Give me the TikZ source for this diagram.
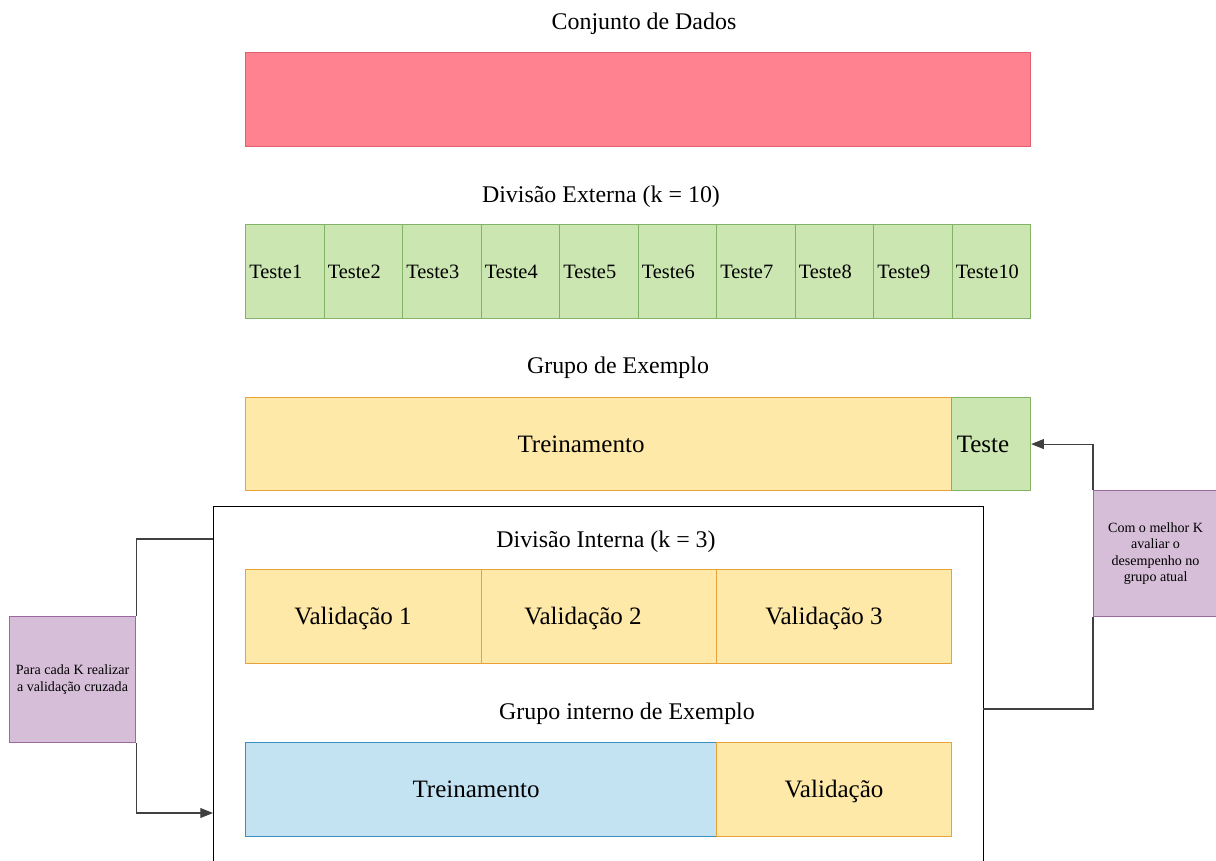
\documentclass[tikz,border=0pt]{standalone}
\usepackage{fontspec}
\setmainfont{Liberation Serif}
\usetikzlibrary{arrows.meta}

\definecolor{dadosfill}{HTML}{FF8290}
\definecolor{dadosline}{HTML}{E0606E}
\definecolor{verdefill}{HTML}{CCE6B2}
\definecolor{verdeline}{HTML}{82B366}
\definecolor{amarelofill}{HTML}{FFE9A8}
\definecolor{amareloline}{HTML}{E8A23C}
\definecolor{azulfill}{HTML}{C3E3F3}
\definecolor{azulline}{HTML}{3A8EC0}
\definecolor{roxofill}{HTML}{D6BDD8}
\definecolor{roxoline}{HTML}{9A6A9E}
\definecolor{linha}{HTML}{404040}

\def\px{0.025cm}

\tikzset{
	caixa/.style={draw, line width=0.8pt, anchor=north west, inner sep=0pt},
	tamanho/.style 2 args={minimum width=#1*\px, minimum height=#2*\px},
	dados/.style={caixa, fill=dadosfill, draw=dadosline},
	verde/.style={caixa, fill=verdefill, draw=verdeline},
	amarelo/.style={caixa, fill=amarelofill, draw=amareloline},
	azul/.style={caixa, fill=azulfill, draw=azulline},
	roxo/.style={caixa, fill=roxofill, draw=roxoline, align=center,
		font=\fontsize{10}{11.6}\selectfont},
	titulo/.style={font=\fontsize{17}{20}\selectfont},
	rotulo/.style={font=\fontsize{17.8}{21}\selectfont, text height=0.7em, text depth=0.2em},
	fold/.style={font=\fontsize{14.5}{17}\selectfont, anchor=west, inner sep=4*\px},
	seta/.style={draw=linha, line width=0.8pt, -{Triangle[length=9pt, width=7pt]}},
	liga/.style={draw=linha, line width=0.8pt},
}

\begin{document}
\begin{tikzpicture}[x=\px, y=-\px]
	\useasboundingbox (0,0) rectangle (1216,861);

	% conjunto completo
	\node[titulo] (tdados) at (644,24) {Conjunto de Dados};
	\node[dados, tamanho={785}{94}] (dados) at (245,52) {};

	% divisao externa em 10 folds
	\node[titulo] (text) at (601,197) {Divisão Externa (k = 10)};
	\foreach \i in {1,...,10} {
		\node[verde, tamanho={78.5}{94}] (f\i) at ({245+(\i-1)*78.5},224) {};
		\node[fold] (lf\i) at (f\i.west) {Teste\i};
	}

	% grupo de exemplo
	\node[titulo] (tgrupo) at (618,368) {Grupo de Exemplo};
	\node[amarelo, tamanho={706}{93}] (treino) at (245,397) {};
	\node[verde, tamanho={79}{93}] (teste) at (951,397) {};
	\node[rotulo] (ltreino) at (581,449) {Treinamento};
	\node[rotulo] (lteste) at (983,449) {Teste};

	% caixa da divisao interna
	\node[caixa, draw=black, fill=white, tamanho={770}{370}] (interna) at (213,506) {};
	\node[titulo] (tint) at (606,542) {Divisão Interna (k = 3)};
	\node[amarelo, tamanho={236}{94}] (val1) at (245,569) {};
	\node[amarelo, tamanho={235}{94}] (val2) at (481,569) {};
	\node[amarelo, tamanho={235}{94}] (val3) at (716,569) {};
	\node[rotulo] (lval1) at (353,621) {Validação 1};
	\node[rotulo] (lval2) at (583,621) {Validação 2};
	\node[rotulo] (lval3) at (824,621) {Validação 3};

	\node[titulo] (tgint) at (627,714) {Grupo interno de Exemplo};
	\node[azul, tamanho={471}{94}] (itreino) at (245,742) {};
	\node[amarelo, tamanho={235}{94}] (ival) at (716,742) {};
	\node[rotulo] (litreino) at (476,794) {Treinamento};
	\node[rotulo] (lival) at (834,794) {Validação};

	% notas laterais
	\node[roxo, tamanho={126}{126}] (cadak) at (9,616) {Para cada K realizar\\a validação cruzada};
	\node[roxo, tamanho={124}{126}] (melhork) at (1093,490) {Com o melhor K\\avaliar o\\desempenho no\\grupo atual};

	\coordinate (ientra) at (213,539);
	\coordinate (isai) at (213,813);
	\coordinate (dsai) at (983,709);

	\draw[liga] (ientra) -| (cadak.north east);
	\draw[seta] (cadak.south east) |- (isai);
	\draw[liga] (dsai) -| (melhork.south west);
	\draw[seta] (melhork.north west) |- (teste.east);
\end{tikzpicture}
\end{document}
